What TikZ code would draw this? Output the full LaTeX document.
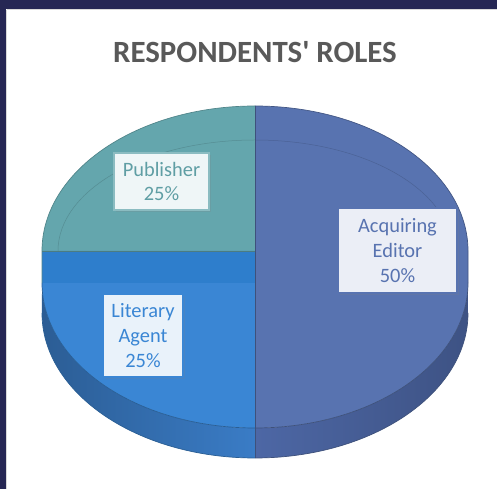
\documentclass[tikz,border=0pt]{standalone}
\usepackage{fontspec}
\setmainfont{Carlito}
\usepackage{tikz}
\usetikzlibrary{calc, positioning, shadows}
\definecolor{navy}{HTML}{262754}
\definecolor{editor}{HTML}{5873B0}
\definecolor{editorside}{HTML}{4D67A5}
\definecolor{publisher}{HTML}{64A6AD}
\definecolor{agent}{HTML}{3A86D4}
\definecolor{agentband}{HTML}{2E7ECC}
\definecolor{agentside}{HTML}{3A7CC6}
\definecolor{titlegray}{HTML}{595959}
\def\rx{213bp}
\def\ry{145bp}
\tikzstyle{slice label}=[draw, line width=1.2pt, align=center, inner sep=0pt, font=\fontsize{20.5}{25}\selectfont, drop shadow={shadow xshift=2bp, shadow yshift=-2bp, opacity=0.2}]
\tikzstyle{face edge}=[line width=0.7pt]

\begin{document}
\begin{tikzpicture}[x=1bp, y=1bp]
		\useasboundingbox (0,0) rectangle (497,489);
		\fill[white] (0,0) rectangle (497,489);
		% frame
		\fill[navy] (0,480) rectangle (497,489);
		\fill[navy] (0,0) rectangle (6,489);
		\draw[black!15] (7,479.5) -- (497,479.5);
		\draw[black!15] (6.5,0) -- (6.5,479);
		\node[font=\fontsize{31}{31}\selectfont\bfseries, text=titlegray] (title) at (255,437) {RESPONDENTS\textquotesingle{} ROLES};
		% side walls
		\shade[left color=agentside!75!black, right color=agentside] (42,206) arc[start angle=180, end angle=270, x radius=\rx, y radius=\ry] -- (255,31) arc[start angle=270, end angle=180, x radius=\rx, y radius=\ry] -- cycle;
		\shade[left color=editorside, right color=editorside!80!black] (255,61) arc[start angle=270, end angle=360, x radius=\rx, y radius=\ry] -- (468,176) arc[start angle=0, end angle=-90, x radius=\rx, y radius=\ry] -- cycle;
		% top faces
		\fill[editor] (255,383) arc[start angle=90, end angle=0, x radius=\rx, y radius=\ry] -- (468,206) arc[start angle=0, end angle=-90, x radius=\rx, y radius=\ry] -- cycle;
		\fill[publisher] (255,238) -- (255,383) arc[start angle=90, end angle=180, x radius=\rx, y radius=\ry] -- cycle;
		\fill[agent] (255,238) -- (42,238) -- (42,206) arc[start angle=180, end angle=270, x radius=\rx, y radius=\ry] -- cycle;
		\fill[agentband] (42,206) rectangle (255,238);
		% edges
		\draw[face edge, editor!75!black] (255,383) arc[start angle=90, end angle=0, x radius=\rx, y radius=\ry] -- (468,206);
		\draw[face edge, publisher!80!black] (255,383) arc[start angle=90, end angle=180, x radius=\rx, y radius=\ry] -- (42,206);
		\draw[face edge, agent!70!black] (42,206) arc[start angle=180, end angle=270, x radius=\rx, y radius=\ry];
		\draw[face edge, editor!70!black] (255,61) arc[start angle=270, end angle=360, x radius=\rx, y radius=\ry];
		\draw[face edge, agent!70!black] (42,176) arc[start angle=180, end angle=270, x radius=\rx, y radius=\ry];
		\draw[face edge, editor!70!black] (255,31) arc[start angle=270, end angle=360, x radius=\rx, y radius=\ry];
		\draw[publisher!85!black, line width=0.5pt] (58,238) arc[start angle=180, end angle=90, x radius=197bp, y radius=111bp];
		\draw[editor!85!black, line width=0.5pt] (255,349) arc[start angle=90, end angle=0, x radius=197bp, y radius=111bp];
		\draw[face edge, publisher!75!black] (42,238) -- (255,238);
		\draw[line width=1pt, editor!70!black] (255,383) -- (255,31);
		% labels
		\node[slice label, draw=publisher!75!white, fill=publisher!10!white, text=publisher!95!black, minimum width=95bp, minimum height=57bp] (pub) at (161.5,307.5) {Publisher\\25\%};
		\node[slice label, draw=agent, fill=agent!11!white, text=agent, minimum width=80bp, minimum height=83bp] (agt) at (143,153.5) {Literary\\Agent\\25\%};
		\node[slice label, draw=editor, fill=editor!12!white, text=editor, minimum width=119bp, minimum height=85bp] (ed) at (397.5,238.5) {Acquiring\\Editor\\50\%};
	\end{tikzpicture}
\end{document}
